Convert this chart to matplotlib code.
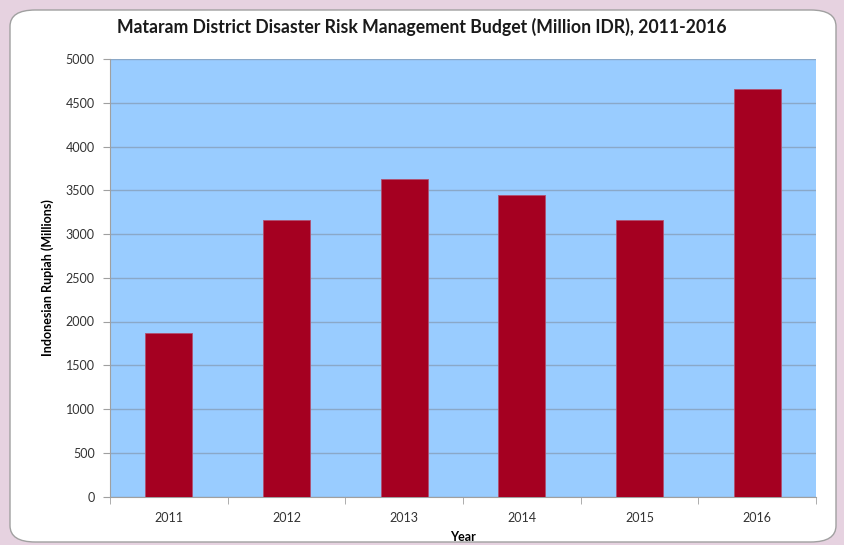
import numpy as np
import matplotlib.pyplot as plt
from matplotlib.patches import FancyBboxPatch

years = ["2011", "2012", "2013", "2014", "2015", "2016"]
budget = [1870, 3160, 3625, 3450, 3160, 4660]
yticks = [0, 500, 1000, 1500, 2000, 2500, 3000, 3500, 4000, 4500, 5000]

plt.rcParams['font.family'] = ['Lato', 'DejaVu Sans']

fig = plt.figure(figsize=(8.44, 5.45), dpi=100)
fig.patch.set_facecolor('#e6d2e0')

# white rounded panel behind the chart
panel = FancyBboxPatch((10 / 844, 3 / 545), 826 / 844, 532 / 545,
                       boxstyle="round,pad=0,rounding_size=0.03",
                       transform=fig.transFigure, facecolor='white',
                       edgecolor='#a0a0a0', linewidth=1.0, zorder=-10)
fig.add_artist(panel)

ax = fig.add_axes([110 / 844, 1 - 496.5 / 545, 706 / 844, 437.5 / 545])
ax.set_facecolor('#99ccff')

x = np.arange(len(years))
ax.bar(x, budget, width=0.4, color='#a50021', edgecolor='#b05070',
       linewidth=0.6, zorder=3)

ax.set_xlim(-0.5, len(years) - 0.5)
ax.set_ylim(0, 5000)
ax.set_yticks(yticks)
ax.set_yticklabels([str(v) for v in yticks], fontsize=9, color='#333333')
ax.set_xticks(x)
ax.set_xticklabels(years, fontsize=9, color='#333333')
ax.set_xticks(np.arange(-0.5, len(years)), minor=True)

ax.grid(axis='y', color='#8aa8c8', linewidth=1.0, zorder=1)
ax.tick_params(axis='x', which='major', length=0, pad=11)
ax.tick_params(axis='x', which='minor', length=5, color='#a0a0a0')
ax.tick_params(axis='y', length=5, color='#a0a0a0', pad=6)

for s in ['top', 'right']:
    ax.spines[s].set_visible(False)
for s in ['left', 'bottom']:
    ax.spines[s].set_color('#a0a0a0')

fig.text(0.5, 1 - 27 / 545,
         "Mataram District Disaster Risk Management Budget (Million IDR), 2011-2016",
         ha='center', va='center', fontsize=12.7, fontweight='bold', color='#1a1a1a')
ax.set_ylabel("Indonesian Rupiah (Millions)", fontsize=9, fontweight='bold', labelpad=8)
ax.set_xlabel("Year", fontsize=9, fontweight='bold', labelpad=5)

fig.savefig("out.png", dpi=100, facecolor=fig.get_facecolor())
